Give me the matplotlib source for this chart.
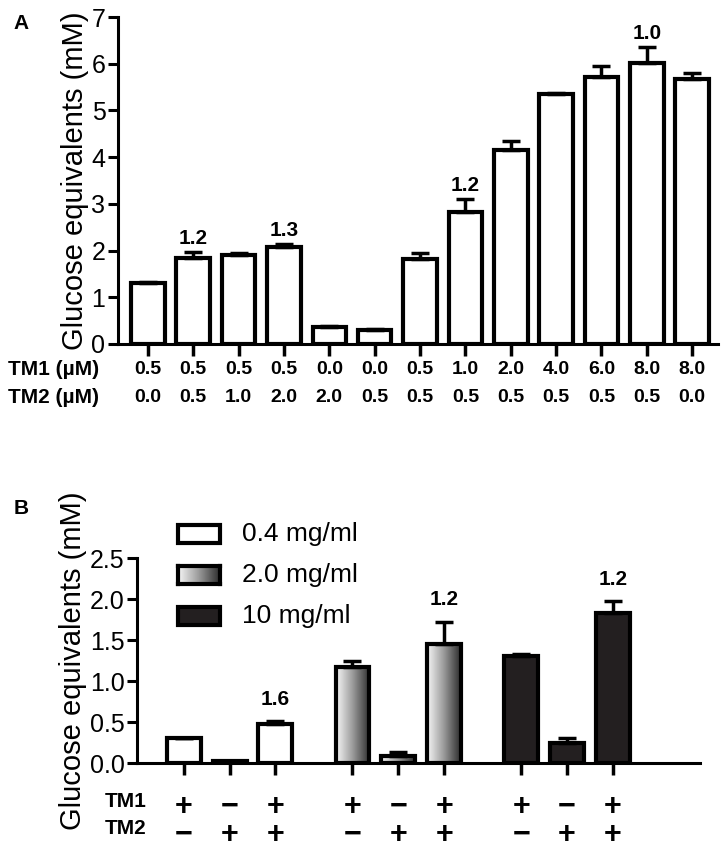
import numpy as np
import matplotlib
matplotlib.use('Agg')
import matplotlib.pyplot as plt
from matplotlib.patches import Rectangle
from matplotlib.colors import LinearSegmentedColormap
from matplotlib.transforms import blended_transform_factory

plt.rcParams['font.family'] = ['Liberation Sans', 'DejaVu Sans']

# Panel A data
tm1_a = ['0.5', '0.5', '0.5', '0.5', '0.0', '0.0', '0.5', '1.0', '2.0', '4.0', '6.0', '8.0', '8.0']
tm2_a = ['0.0', '0.5', '1.0', '2.0', '2.0', '0.5', '0.5', '0.5', '0.5', '0.5', '0.5', '0.5', '0.0']
glucose_a = [1.31, 1.84, 1.91, 2.08, 0.37, 0.30, 1.82, 2.83, 4.15, 5.35, 5.72, 6.02, 5.67]
err_a = [0.02, 0.12, 0.04, 0.05, 0.01, 0.02, 0.12, 0.27, 0.20, 0.03, 0.24, 0.34, 0.14]
ratio_a = {1: '1.2', 3: '1.3', 7: '1.2', 11: '1.0'}

# Panel B data
conc_labels = ['0.4 mg/ml', '2.0 mg/ml', '10 mg/ml']
tm1_b = ['+', '\u2212', '+']
tm2_b = ['\u2212', '+', '+']
glucose_b = [[0.30, 0.03, 0.48], [1.17, 0.09, 1.45], [1.30, 0.24, 1.83]]
err_b = [[0.00, 0.00, 0.03], [0.08, 0.04, 0.27], [0.03, 0.06, 0.14]]
ratio_b = {(0, 2): '1.6', (1, 2): '1.2', (2, 2): '1.2'}

dark = '#231f20'
grad_cmap = LinearSegmentedColormap.from_list('grad', ['#f6f6f6', '#9a9a9a', '#2e2e2e'])

fig = plt.figure(figsize=(7.26, 8.51), dpi=100)

# ---------------- Panel A ----------------
axA = fig.add_axes([0.1625, 0.5958, 0.8265, 0.3842])
xa = np.arange(len(glucose_a))
axA.bar(xa, glucose_a, width=0.74, color='white', edgecolor='black', linewidth=3, zorder=2)
axA.errorbar(xa, glucose_a, yerr=[np.zeros(len(err_a)), err_a], fmt='none', ecolor='black',
             elinewidth=2.5, capsize=6.5, capthick=2.5, zorder=3)
for i, t in ratio_a.items():
    axA.annotate(t, (xa[i], glucose_a[i] + err_a[i]), xytext=(0, 3), textcoords='offset points',
                 ha='center', va='bottom', fontsize=15, fontweight='bold')
axA.set_xlim(-0.66, 12.57)
axA.set_ylim(0, 7)
axA.set_yticks(range(0, 8))
axA.tick_params(axis='y', labelsize=18, width=2.2, length=7, pad=2)
axA.tick_params(axis='x', width=2.5, length=8.6, labelbottom=False)
axA.set_xticks(xa)
axA.set_ylabel('Glucose equivalents (mM)', fontsize=21, labelpad=2)
for s in ['top', 'right']:
    axA.spines[s].set_visible(False)
for s in ['left', 'bottom']:
    axA.spines[s].set_linewidth(2.2)
trA = blended_transform_factory(axA.transData, axA.transAxes)
for i in range(len(xa)):
    axA.text(xa[i], -0.0795, tm1_a[i], transform=trA, ha='center', va='center', fontsize=14, fontweight='bold')
    axA.text(xa[i], -0.165, tm2_a[i], transform=trA, ha='center', va='center', fontsize=14, fontweight='bold')
axA.text(-0.183, -0.0795, 'TM1 (\u00b5M)', transform=axA.transAxes, ha='left', va='center', fontsize=15, fontweight='bold')
axA.text(-0.183, -0.165, 'TM2 (\u00b5M)', transform=axA.transAxes, ha='left', va='center', fontsize=15, fontweight='bold')
fig.text(0.019, 0.972, 'A', fontsize=15, fontweight='bold', ha='left', va='center')

# ---------------- Panel B ----------------
axB = fig.add_axes([0.1887, 0.1034, 0.7755, 0.2409])
group_starts = [0, 3.68, 7.36]
bw = 0.74
trB = blended_transform_factory(axB.transData, axB.transAxes)
for g in range(3):
    xb = group_starts[g] + np.arange(3)
    vals = glucose_b[g]
    if g == 0:
        axB.bar(xb, vals, width=bw, color='white', edgecolor='black', linewidth=3, zorder=2)
    elif g == 2:
        axB.bar(xb, vals, width=bw, color=dark, edgecolor='black', linewidth=3, zorder=2)
    else:
        bars = axB.bar(xb, vals, width=bw, color='none', edgecolor='black', linewidth=3, zorder=3)
        for b, xv, v in zip(bars, xb, vals):
            im = axB.imshow(np.linspace(0, 1, 64).reshape(1, -1), cmap=grad_cmap, aspect='auto',
                            extent=[xv - bw / 2, xv + bw / 2, 0, v], zorder=2)
            im.set_clip_path(b)
    axB.errorbar(xb, vals, yerr=[np.zeros(3), err_b[g]], fmt='none', ecolor='black',
                 elinewidth=2.5, capsize=6.5, capthick=2.5, zorder=4)
    for (gg, k), t in ratio_b.items():
        if gg == g:
            axB.annotate(t, (xb[k], vals[k] + err_b[g][k]), xytext=(0, 9), textcoords='offset points',
                         ha='center', va='bottom', fontsize=15, fontweight='bold')
    for k in range(3):
        axB.text(xb[k], -0.215, tm1_b[k], transform=trB, ha='center', va='center', fontsize=22, fontweight='bold')
        axB.text(xb[k], -0.35, tm2_b[k], transform=trB, ha='center', va='center', fontsize=22, fontweight='bold')

all_x = np.concatenate([group_starts[g] + np.arange(3) for g in range(3)])
axB.set_xticks(all_x)
axB.set_xlim(-1.02, 11.26)
axB.set_ylim(0, 2.5)
axB.set_yticks(np.arange(0, 2.51, 0.5))
axB.set_yticklabels([f'{v:.1f}' for v in np.arange(0, 2.51, 0.5)])
axB.tick_params(axis='y', labelsize=18, width=2.2, length=7, pad=2)
axB.tick_params(axis='x', width=2.5, length=8.6, labelbottom=False)
axB.set_ylabel('Glucose equivalents (mM)', fontsize=21, labelpad=2)
for s in ['top', 'right']:
    axB.spines[s].set_visible(False)
for s in ['left', 'bottom']:
    axB.spines[s].set_linewidth(2.2)
axB.text(-0.058, -0.19, 'TM1', transform=axB.transAxes, ha='left', va='center', fontsize=15, fontweight='bold')
axB.text(-0.058, -0.32, 'TM2', transform=axB.transAxes, ha='left', va='center', fontsize=15, fontweight='bold')
fig.text(0.019, 0.402, 'B', fontsize=15, fontweight='bold', ha='left', va='center')

# legend (manual, figure pixel layout)
W, H = 726, 851
leg_y = [534, 575, 616]
for j, lab in enumerate(conc_labels):
    x0, y0 = 178 / W, 1 - (leg_y[j] + 9) / H
    w, h = 42 / W, 18 / H
    if j == 1:
        gax = fig.add_axes([x0, y0, w, h])
        gax.imshow(np.linspace(0, 1, 64).reshape(1, -1), cmap=grad_cmap, aspect='auto')
        gax.set_xticks([])
        gax.set_yticks([])
        for s in gax.spines.values():
            s.set_linewidth(3)
    else:
        fc = 'white' if j == 0 else dark
        fig.patches.append(Rectangle((x0, y0), w, h, transform=fig.transFigure, facecolor=fc,
                                     edgecolor='black', linewidth=3))
    fig.text(242 / W, 1 - leg_y[j] / H, lab, fontsize=19, ha='left', va='center')

fig.savefig('out.png', dpi=100)
